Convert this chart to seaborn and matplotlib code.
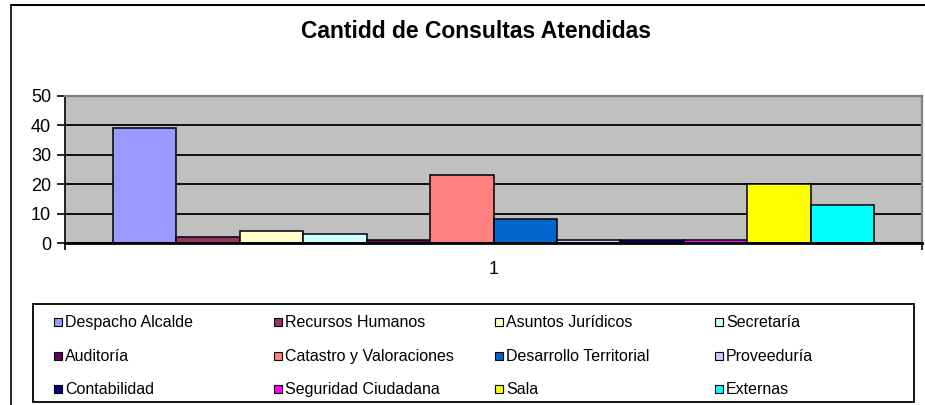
import matplotlib
matplotlib.use("Agg")
import matplotlib.pyplot as plt
from matplotlib.lines import Line2D
from matplotlib.patches import Rectangle
import seaborn as sns
import pandas as pd

# Datos
areas = ["Despacho Alcalde", "Recursos Humanos", "Asuntos Jurídicos", "Secretaría",
         "Auditoría", "Catastro y Valoraciones", "Desarrollo Territorial", "Proveeduría",
         "Contabilidad", "Seguridad Ciudadana", "Sala", "Externas"]
consultas = [39, 2, 4, 3, 1, 23, 8, 1, 1, 1, 20, 13]
colores = ["#9999FF", "#993366", "#FFFFCC", "#CCFFFF", "#660066", "#FF8080",
           "#0066CC", "#CCCCFF", "#000080", "#FF00FF", "#FFFF00", "#00FFFF"]
categoria = ["1"] * len(areas)

df = pd.DataFrame({"cat": categoria, "area": areas, "valor": consultas})

sns.set_style("white")
plt.rcParams["font.family"] = ["Liberation Sans", "DejaVu Sans"]
plt.rcParams["text.color"] = "black"
plt.rcParams["xtick.color"] = "black"
plt.rcParams["ytick.color"] = "black"

W, H = 925, 405
fig = plt.figure(figsize=(W / 100, H / 100), dpi=100)
ax = fig.add_axes([65 / W, 1 - 243 / H, 857 / W, 147 / H])

sns.barplot(data=df, x="cat", y="valor", hue="area", hue_order=areas,
            palette=colores, width=0.889, edgecolor="black", linewidth=1.1,
            saturation=1, legend=False, ax=ax, zorder=3)

ax.set_facecolor("#C0C0C0")
ax.set_ylim(0, 50)
ax.set_xlim(-0.5, 0.5)
ax.set_yticks([0, 10, 20, 30, 40, 50])
ax.yaxis.grid(True, color="black", linewidth=1.3, zorder=1)
ax.set_axisbelow(True)
ax.set_xlabel("")
ax.set_ylabel("")

ax.tick_params(axis="y", direction="out", length=6, width=1.2, color="black",
               labelsize=13, pad=4, left=True)
ax.set_xticks([0])
ax.set_xticklabels(["1"])
ax.tick_params(axis="x", length=0, labelsize=13, pad=13)
ax.set_xticks([-0.5, 0.5], minor=True)
ax.tick_params(axis="x", which="minor", direction="out", length=5, width=1.2,
               color="black", bottom=True)

for s in ["top", "right"]:
    ax.spines[s].set_color("#808080")
    ax.spines[s].set_linewidth(1.6)
ax.spines["left"].set_color("black")
ax.spines["left"].set_linewidth(1.2)
ax.spines["bottom"].set_color("black")
ax.spines["bottom"].set_linewidth(2)
ax.spines["bottom"].set_zorder(5)

fig.text(476 / W, 1 - 32 / H, "Cantidd de Consultas Atendidas",
         ha="center", va="center", fontsize=16.5, fontweight="bold", color="black")

# marco del gráfico
fig.add_artist(Line2D([10.5 / W, 10.5 / W], [0, 1 - 5 / H], color="black", lw=1.2))
fig.add_artist(Line2D([10.5 / W, 1], [1 - 5 / H, 1 - 5 / H], color="black", lw=1.5))

# leyenda: 4 columnas x 3 filas
fig.add_artist(Rectangle((33 / W, 1 - 402 / H), 881 / W, 98 / H, transform=fig.transFigure,
                         facecolor="white", edgecolor="black", linewidth=1.3))
col_x = [54, 274, 495, 715]
fila_y = [322, 356, 389]
for i, (nombre, color) in enumerate(zip(areas, colores)):
    x = col_x[i % 4]
    y = fila_y[i // 4]
    fig.add_artist(Rectangle((x / W, 1 - (y + 4) / H), 8 / W, 8 / H,
                             transform=fig.transFigure, facecolor=color,
                             edgecolor="black", linewidth=0.8))
    fig.text((x + 11) / W, 1 - (y + 5) / H, nombre, ha="left", va="baseline", fontsize=11.5)

plt.savefig("out.png", dpi=100)
